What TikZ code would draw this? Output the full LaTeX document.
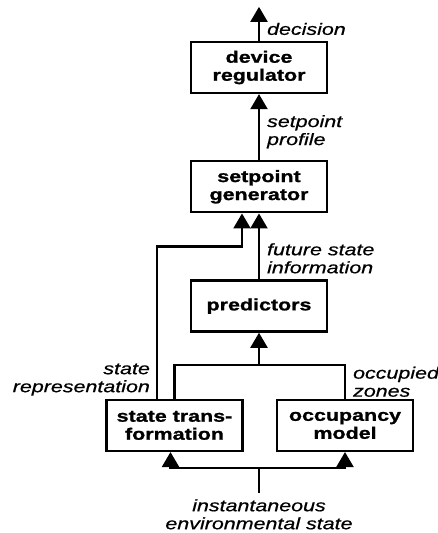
\documentclass[tikz,border=0pt]{standalone}
\usepackage{fontspec}
\setmainfont{Liberation Sans}[FakeStretch=1.3, BoldFeatures={FakeBold=1.2}, ItalicFeatures={FakeBold=0.6}]
\usetikzlibrary{positioning, arrows.meta, calc}

\begin{document}
\begin{tikzpicture}[
  x=1pt, y=1pt,
  node distance=66pt,
  block/.style={rectangle, draw=black, line width=2.3pt, minimum width=136pt, minimum height=51pt, align=center, inner sep=2pt, font=\fontsize{16.5}{18}\selectfont\bfseries},
  arrow/.style={-{Triangle[length=15pt,width=17pt]}, line width=2.2pt},
  wire/.style={line width=2.2pt},
  flow/.style={font=\fontsize{16.5}{18}\selectfont\itshape, inner sep=1pt}
]
\useasboundingbox (0,0) rectangle (438,-533);

\node[block] (regulator) at (259,-67.5) {device\\regulator};
\node[block, below=of regulator] (generator) {setpoint\\generator};
\node[block, below=of generator] (predictors) {predictors};
\node[block, below=of predictors, xshift=-84.5pt] (trans) {state trans-\\formation};
\node[block, below=of predictors, xshift=86pt] (occupancy) {occupancy\\model};

\coordinate (decout) at ($(regulator.north)+(0,34pt)$);
\coordinate (reprturn) at ($(generator.south)+(-17pt,-33pt)$);
\coordinate (merge) at ($(predictors.south)+(0,-32pt)$);
\coordinate (split) at ($(predictors.south |- trans.south)+(0,-16pt)$);
\coordinate (envin) at ($(split)+(0,-25pt)$);
\node[flow, align=center, below=5pt of envin] (envstate) {instantaneous\\environmental state};

\draw[arrow] (regulator) -- (decout) node[flow, right=6pt, pos=0.35] {decision};
\draw[arrow] (generator) -- node[flow, right=6pt, align=left, pos=0.43] {setpoint\\profile} (regulator);
\draw[arrow] (predictors) -- node[flow, right=6pt, align=left, pos=0.32] {future state\\information} (generator);

\draw[arrow] ([xshift=-17.5pt]trans.north) |- node[flow, left=5pt, align=right, pos=0.063] {state\\representation} (reprturn) -- ([xshift=-17pt]generator.south);
\draw[wire] (trans.north) |- (merge) -| node[flow, right=6pt, align=left, pos=0.75] {occupied\\zones} (occupancy.north);
\draw[arrow] (merge) -- (predictors);

\draw[wire] (envin) -- (split);
\draw[arrow] (split) -| ([xshift=-4pt]trans.south);
\draw[arrow] (split) -| (occupancy.south);
\end{tikzpicture}
\end{document}
